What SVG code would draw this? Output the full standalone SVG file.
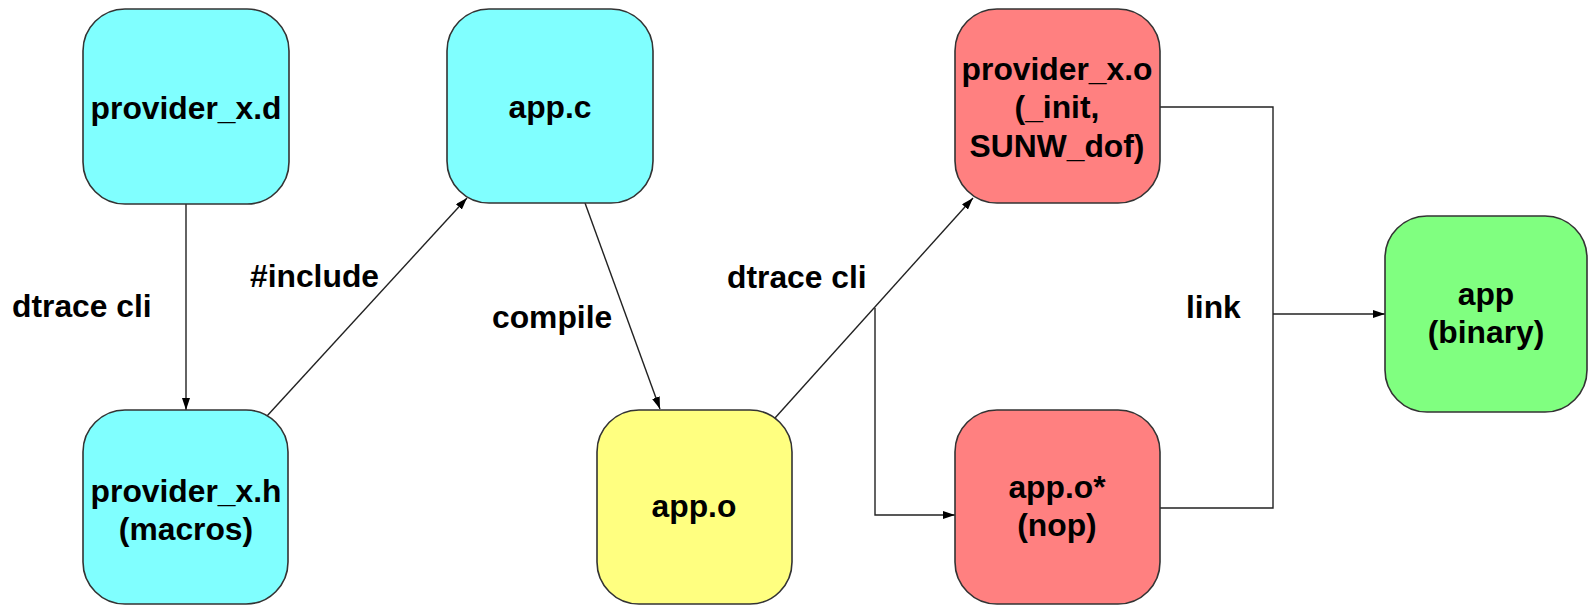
<svg xmlns="http://www.w3.org/2000/svg" width="1589" height="606" viewBox="0 0 1589 606">
  <style>
    .node rect { stroke: #333333; stroke-width: 1.6; }
    .cyan { fill: #80ffff; }
    .red { fill: #ff8080; }
    .yellow { fill: #ffff80; }
    .green { fill: #80ff80; }
    text { font-family: "Liberation Sans", Arial, Helvetica, sans-serif; font-weight: bold; font-size: 31.8px; fill: #000000; }
    .c { text-anchor: middle; }
    .edge { fill: none; stroke: #222222; stroke-width: 1.4; }
  </style>
  <defs>
    <marker id="arrow" viewBox="0 0 12 8" refX="12" refY="4" markerWidth="12" markerHeight="8" markerUnits="userSpaceOnUse" orient="auto">
      <path d="M0,0 L12,4 L0,8 z" fill="#000000"/>
    </marker>
  </defs>

  <rect width="1589" height="606" fill="#ffffff"/>

  <!-- connectors -->
  <g id="connectors">
    <line class="edge" x1="186" y1="204" x2="186" y2="410" marker-end="url(#arrow)"/>
    <line class="edge" x1="267" y1="416" x2="467" y2="198" marker-end="url(#arrow)"/>
    <line class="edge" x1="585" y1="203" x2="660" y2="409" marker-end="url(#arrow)"/>
    <line class="edge" x1="775" y1="418" x2="973" y2="198" marker-end="url(#arrow)"/>
    <polyline class="edge" points="875,308 875,515 955,515" marker-end="url(#arrow)"/>
    <polyline class="edge" points="1160,107 1273,107 1273,508 1160,508"/>
    <line class="edge" x1="1273" y1="314" x2="1385" y2="314" marker-end="url(#arrow)"/>
  </g>

  <!-- edge labels -->
  <g id="labels">
    <text x="12" y="317">dtrace cli</text>
    <text x="250" y="287">#include</text>
    <text x="492" y="328">compile</text>
    <text x="727" y="288">dtrace cli</text>
    <text x="1186" y="318">link</text>
  </g>

  <!-- nodes -->
  <g id="provider_x_d" class="node">
    <rect class="cyan" x="83" y="9" width="206" height="195" rx="42" ry="42"/>
    <text class="c" x="186" y="119">provider_x.d</text>
  </g>
  <g id="app_c" class="node">
    <rect class="cyan" x="447" y="9" width="206" height="194" rx="42" ry="42"/>
    <text class="c" x="550" y="118">app.c</text>
  </g>
  <g id="provider_x_h" class="node">
    <rect class="cyan" x="83" y="410" width="205" height="194" rx="42" ry="42"/>
    <text class="c" x="186" y="502">provider_x.h</text>
    <text class="c" x="186" y="540">(macros)</text>
  </g>
  <g id="app_o" class="node">
    <rect class="yellow" x="597" y="410" width="195" height="194" rx="42" ry="42"/>
    <text class="c" x="694" y="517">app.o</text>
  </g>
  <g id="provider_x_o" class="node">
    <rect class="red" x="955" y="9" width="205" height="194" rx="42" ry="42"/>
    <text class="c" x="1057" y="80">provider_x.o</text>
    <text class="c" x="1057" y="118">(_init,</text>
    <text class="c" x="1057" y="157">SUNW_dof)</text>
  </g>
  <g id="app_o_star" class="node">
    <rect class="red" x="955" y="410" width="205" height="194" rx="42" ry="42"/>
    <text class="c" x="1057" y="498">app.o*</text>
    <text class="c" x="1057" y="536">(nop)</text>
  </g>
  <g id="app_binary" class="node">
    <rect class="green" x="1385" y="216" width="202" height="196" rx="42" ry="42"/>
    <text class="c" x="1486" y="305">app</text>
    <text class="c" x="1486" y="343">(binary)</text>
  </g>
</svg>
